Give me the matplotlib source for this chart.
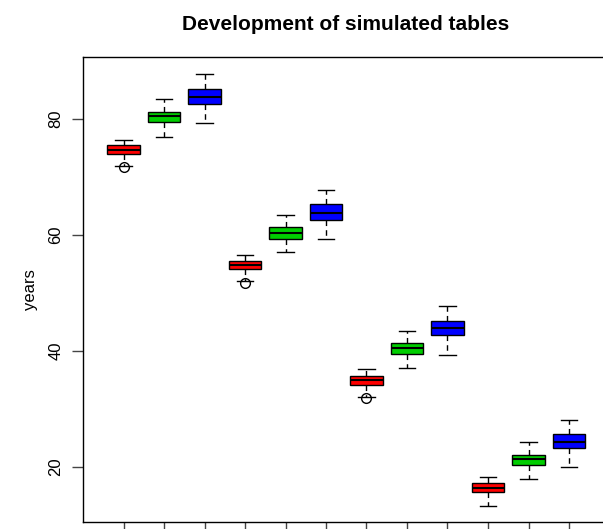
import matplotlib
matplotlib.use("Agg")
import matplotlib.pyplot as plt

plt.rcParams['font.family'] = ['Liberation Sans', 'DejaVu Sans']

# five-number summaries, one value per box
positions = [1, 2, 3, 4, 5, 6, 7, 8, 9, 10, 11, 12]
whislo = [71.9, 76.9, 79.3, 52.1, 57.0, 59.2, 32.1, 37.0, 39.3, 13.3, 17.9, 20.0]
q1 = [73.9, 79.4, 82.6, 54.1, 59.3, 62.6, 34.1, 39.4, 42.7, 15.6, 20.3, 23.2]
med = [74.7, 80.4, 83.8, 54.8, 60.3, 63.8, 34.9, 40.5, 44.0, 16.4, 21.3, 24.3]
q3 = [75.5, 81.2, 85.1, 55.5, 61.3, 65.3, 35.7, 41.4, 45.2, 17.2, 22.1, 25.7]
whishi = [76.4, 83.4, 87.8, 56.5, 63.4, 67.7, 36.8, 43.5, 47.8, 18.2, 24.3, 28.1]
outliers = [[71.7], [], [], [51.7], [], [], [31.9], [], [], [], [], []]
colors = ['#FF0000', '#00CD00', '#0000FF'] * 4

yticks = [20, 40, 60, 80]

stats = []
for i in range(len(positions)):
    stats.append({'whislo': whislo[i], 'q1': q1[i], 'med': med[i],
                  'q3': q3[i], 'whishi': whishi[i], 'fliers': outliers[i]})

fig = plt.figure(figsize=(6.03, 5.29), dpi=100)
# plot region runs past the right edge, like the cropped original
ax = fig.add_axes([83 / 603, 7 / 529, 526.5 / 603, 465.3 / 529])

bp = ax.bxp(stats, positions=positions, widths=0.8, patch_artist=True,
            boxprops=dict(edgecolor='black', linewidth=1),
            medianprops=dict(color='black', linewidth=1.5),
            whiskerprops=dict(color='black', linewidth=1, linestyle=(0, (4, 3))),
            capprops=dict(color='black', linewidth=1),
            capwidths=0.4,
            flierprops=dict(marker='o', markerfacecolor='none',
                            markeredgecolor='black', markersize=7))
for patch, c in zip(bp['boxes'], colors):
    patch.set_facecolor(c)

ax.set_xlim(0, 13)
ax.set_ylim(10.5, 90.7)
ax.set_xticks(positions)
ax.set_xticklabels([])
ax.set_yticks(yticks)
ax.set_yticklabels([str(t) for t in yticks], rotation=90, va='center', fontsize=12)
ax.tick_params(axis='both', length=8, width=1, color='#444444', pad=6)
ax.set_ylabel('years', fontsize=12)
ax.yaxis.set_label_coords(-45 / 526.5, 0.5)
for s in ax.spines.values():
    s.set_linewidth(1)

fig.suptitle('Development of simulated tables', x=346 / 603, y=1 - 24 / 529,
             fontsize=15, fontweight='bold', va='center')

fig.savefig('out.png', dpi=100)
